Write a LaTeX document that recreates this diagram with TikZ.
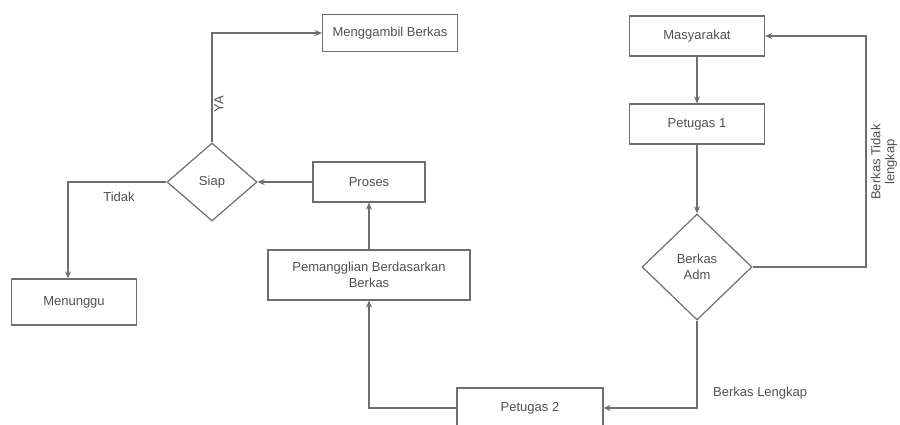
\documentclass[tikz,border=0pt]{standalone}
\usepackage{fontspec}
\setmainfont{Liberation Sans}
\usetikzlibrary{shapes.geometric,arrows.meta}
\definecolor{linec}{HTML}{6E6E6E}
\definecolor{textc}{HTML}{505050}
\tikzset{
  box/.style={draw=linec, line width=1.2pt, rectangle, inner sep=0pt, text=textc, align=center,
    font=\fontsize{13}{16}\selectfont},
  dia/.style={draw=linec, line width=1.2pt, diamond, inner sep=0pt, text=textc, align=center,
    font=\fontsize{13}{16}\selectfont},
  arr/.style={draw=linec, line width=1.2pt, -{Stealth[length=7pt,width=6pt]}},
  lbl/.style={text=textc, font=\fontsize{13}{14}\selectfont, inner sep=0pt, align=center}
}
\begin{document}
\begin{tikzpicture}[x=1pt,y=-1pt]
\useasboundingbox (0,0) rectangle (900,424);
\node[box, minimum width=135pt, minimum height=37pt] (mb) at (390,33) {Menggambil Berkas};
\node[box, minimum width=135pt, minimum height=40pt] (masy) at (697,36) {Masyarakat};
\node[box, minimum width=135pt, minimum height=40pt] (pet1) at (697,124) {Petugas 1};
\node[dia, minimum width=110pt, minimum height=106pt] (adm) at (697,267) {Berkas\\Adm};
\node[box, minimum width=146pt, minimum height=40pt] (pet2) at (530,408) {Petugas 2};
\node[box, minimum width=202pt, minimum height=50pt] (pem) at (369,275) {Pemangglian Berdasarkan\\Berkas};
\node[box, minimum width=112pt, minimum height=40pt] (proses) at (369,182) {Proses};
\node[dia, minimum width=90pt, minimum height=78pt] (siap) at (212,182) {Siap};
\node[box, minimum width=125pt, minimum height=46pt] (men) at (74,302) {Menunggu};
\coordinate (r) at (866,267);
\draw[arr] (masy.south) -- (pet1.north);
\draw[arr] (pet1.south) -- (adm.north);
\draw[arr] (adm.east) -- (r) |- (masy.east);
\draw[arr] (adm.south) |- (pet2.east);
\draw[arr] (pet2.west) -| (pem.south);
\draw[arr] (pem.north) -- (proses.south);
\draw[arr] (proses.west) -- (siap.east);
\draw[arr] (siap.north) |- (mb.west);
\draw[arr] (siap.west) -| ([xshift=-6pt]men.north);
\node[lbl, rotate=90] (ya) at (219,104) {YA};
\node[lbl] (tidak) at (119,197) {Tidak};
\node[lbl, anchor=west] (lengkap) at (713,393) {Berkas Lengkap};
\node[lbl, rotate=90] (tl) at (884,162) {Berkas Tidak\\lengkap};
\end{tikzpicture}
\end{document}
